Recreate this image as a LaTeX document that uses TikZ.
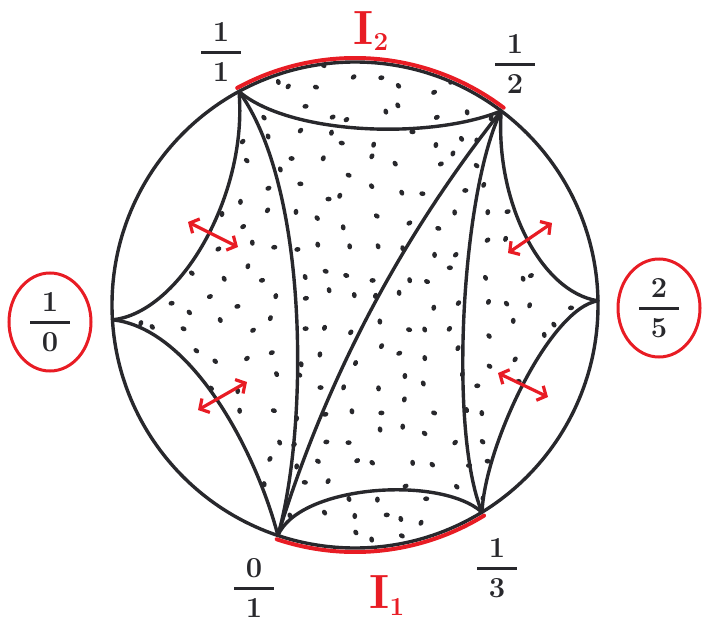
\documentclass[tikz,border=0pt]{standalone}
\usepackage{fontspec}
\usepackage{amsmath}
\usetikzlibrary{arrows.meta,shapes.geometric}
\definecolor{pen}{RGB}{40,40,44}
\definecolor{rd}{RGB}{232,28,36}
\newcommand\myfr[2]{$\genfrac{}{}{2.8pt}{0}{\makebox[40pt]{\bfseries #1}}{\makebox[40pt]{\bfseries #2}}$}
\begin{document}
\begin{tikzpicture}[x=1pt,y=-1pt,
  geo/.style={draw=pen, line width=3.4pt, line cap=round, line join=round},
  redarc/.style={draw=rd, line width=4pt, line cap=round},
  dbl/.style={draw=rd, line width=3.2pt, line cap=round, {Straight Barb[length=7pt,width=16pt]}-{Straight Barb[length=7pt,width=16pt]}},
  fraclab/.style={font=\fontsize{29}{31}\selectfont, inner sep=0pt, text=pen},
  oval/.style={ellipse, draw=rd, line width=3pt, minimum width=82pt, minimum height=98pt, inner sep=0pt},
  ilab/.style={font=\fontsize{48}{50}\selectfont\bfseries, text=rd, inner sep=0pt},
]
\useasboundingbox (0,0) rectangle (706,623);
\coordinate (C) at (355,305);
\coordinate (v10) at (112.5,319.8);
\coordinate (v11) at (239,91.5);
\coordinate (v12) at (501.2,110.9);
\coordinate (v25) at (598,300.8);
\coordinate (v13) at (482,512.2);
\coordinate (v01) at (277.9,535.4);

% stippled region
\begin{scope}
\clip (v10) .. controls (180,313) and (248,195) .. (v11)
  arc[start angle=118.5, end angle=53, radius=243pt]
  .. controls (495,200) and (540,292) .. (v25)
  .. controls (550,308) and (485,445) .. (v13)
  arc[start angle=-58.5, end angle=-108.5, radius=243pt]
  .. controls (255,448) and (190,328) .. (v10) -- cycle;
\pgfmathsetseed{7}
\foreach \x in {108,135,...,600}
  \foreach \y in {58,85,...,560}
    \fill[pen, rotate around={180*rnd:({\x},{\y})}] ({\x+10*rand},{\y+10*rand}) ellipse[x radius=3.1pt, y radius=2.4pt];
\end{scope}

% boundary circle
\draw[geo] (C) circle[radius=243pt];

% geodesics
\draw[geo] (v10) .. controls (180,313) and (248,195) .. (v11);
\draw[geo] (v10) .. controls (190,328) and (255,448) .. (v01);
\draw[geo] (v11) .. controls (310,190) and (308,430) .. (v01);
\draw[geo] (v11) .. controls (290,135) and (430,140) .. (v12);
\draw[geo] (v01) .. controls (325.5,380) and (400.5,238) .. (v12);
\draw[geo] (v01) .. controls (300,485) and (440,475) .. (v13);
\draw[geo] (v12) .. controls (462,190) and (448,430) .. (v13);
\draw[geo] (v12) .. controls (495,200) and (540,292) .. (v25);
\draw[geo] (v25) .. controls (550,308) and (485,445) .. (v13);

% red boundary intervals
\draw[redarc] (C) ++(118.5:247pt) arc[start angle=118.5, end angle=53, radius=247pt];
\draw[redarc] (C) ++(-108.5:247pt) arc[start angle=-108.5, end angle=-58.5, radius=247pt];

% red double arrows
\coordinate (a1s) at (188,222); \coordinate (a1e) at (238,247);
\coordinate (a2s) at (198,410); \coordinate (a2e) at (247,382);
\coordinate (a3s) at (508,253); \coordinate (a3e) at (552,223);
\coordinate (a4s) at (498,373); \coordinate (a4e) at (548,397);
\draw[dbl] (a1s) -- (a1e);
\draw[dbl] (a2s) -- (a2e);
\draw[dbl] (a3s) -- (a3e);
\draw[dbl] (a4s) -- (a4e);

% labels
\node[fraclab] (l11) at (221,52) {\myfr{1}{1}};
\node[fraclab] (l12) at (515,64) {\myfr{1}{2}};
\node[fraclab] (l01) at (254,588) {\myfr{0}{1}};
\node[fraclab] (l13) at (497,568) {\myfr{1}{3}};
\node[fraclab, oval] (l10) at (50,322) {\myfr{1}{0}};
\node[fraclab, oval] (l25) at (659,308) {\myfr{2}{5}};
\node[ilab] (i2) at (371,31) {I\raisebox{-6pt}{\fontsize{26}{26}\selectfont 2}};
\node[ilab] (i1) at (387,596) {I\raisebox{-7pt}{\fontsize{26}{26}\selectfont 1}};
\end{tikzpicture}
\end{document}
